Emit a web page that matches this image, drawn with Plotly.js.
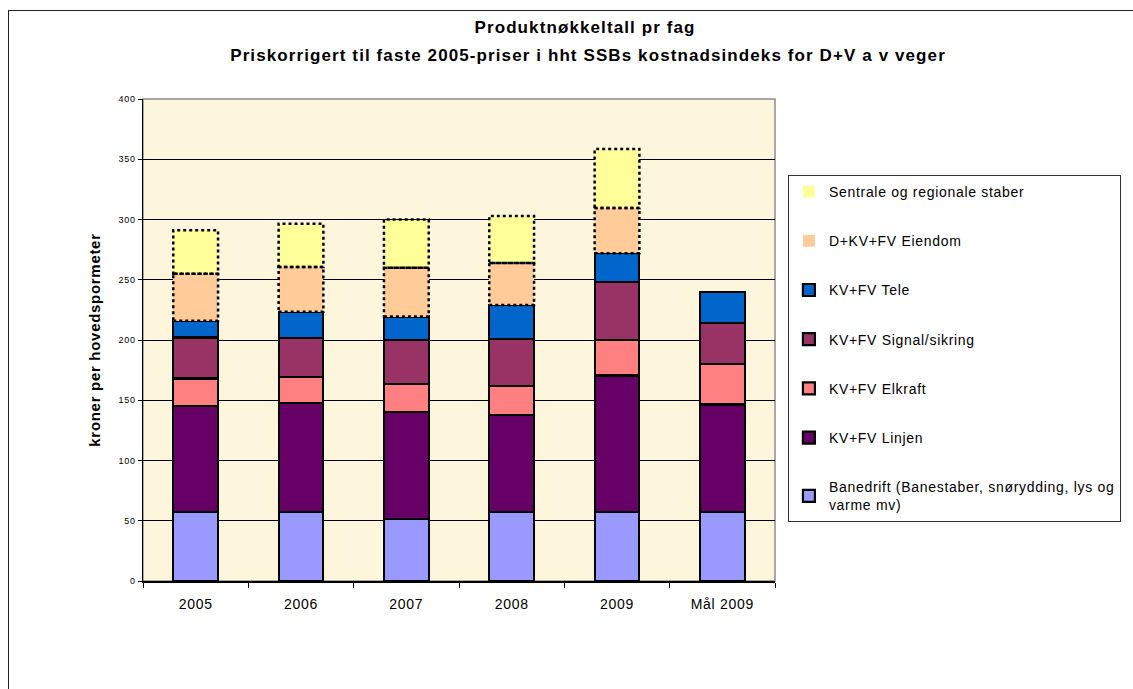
<!DOCTYPE html>
<html><head><meta charset="utf-8">
<script src="https://cdn.plot.ly/plotly-3.0.1.min.js"></script>
<style>
html,body{margin:0;padding:0;overflow:hidden;background:#fff;}
#chart{position:absolute;left:0;top:0;width:1133px;height:689px;}
#frame{position:absolute;left:8px;top:10px;width:1400px;height:1000px;border:1px solid #222;pointer-events:none;}
svg text{letter-spacing:0.7px;}
#chart .gtitle, #chart .annotation-text{letter-spacing:1.1px;}
</style></head><body>
<div id="chart"></div><div id="frame"></div>
<script>
const categories = ['2005','2006','2007','2008','2009','Mål 2009'];
const banedrift = [57.5,57.5,51.5,57.5,57.5,57.5];
const linjen = [88,90,88.5,80.5,113,89];
const elkraft = [22.5,22,23.5,24,29.5,33.5];
const signal = [34,32,36.5,39,48,34];
const tele = [14,22,19.5,28,24,26];
const eiendom = [39,37,40.5,35,37.5,null];
const sentrale = [36,36,40,39,49,null];
const seriesNames = ['Banedrift (Banestaber, snørydding, lys og<br>varme mv)','KV+FV Linjen','KV+FV Elkraft','KV+FV Signal/sikring','KV+FV Tele','D+KV+FV Eiendom','Sentrale og regionale staber'];
const seriesColors = ['#9999FF','#660066','#FF8080','#993366','#0066CC','#FFCC99','#FFFF99'];
const seriesValues = [banedrift, linjen, elkraft, signal, tele, eiendom, sentrale];
const dottedSeries = [5, 6];

const FONT = 'Liberation Sans, Arial, sans-serif';
const bargap = 0.575;
const halfW = (1 - bargap) / 2;

const traces = seriesValues.map((vals, k) => ({
  type: 'bar',
  name: seriesNames[k],
  x: categories,
  y: vals,
  legendgroup: 'g' + k,
  legendrank: 100 - k,
  marker: {color: seriesColors[k], line: {color: '#000', width: dottedSeries.includes(k) ? 0 : 2.2}},
  hoverinfo: 'x+y+name'
}));

// dotted outlines for the two top series, derived from the data
const shapes = [];
categories.forEach((c, i) => {
  let base = 0;
  for (let k = 0; k < seriesValues.length; k++) {
    const v = seriesValues[k][i];
    if (v == null) continue;
    if (dottedSeries.includes(k)) {
      shapes.push({type: 'rect', xref: 'x', yref: 'y', x0: i - halfW, x1: i + halfW, y0: base, y1: base + v,
        line: {color: '#000', width: 2.5, dash: 'dot'}, layer: 'above'});
    }
    base += v;
  }
});
// plot area frame (grey top/right)
shapes.push({type: 'rect', xref: 'paper', yref: 'paper', x0: 0, x1: 1, y0: 0, y1: 1,
  line: {color: '#8c8c8c', width: 1.5}, layer: 'below'});

const layout = {
  width: 1133, height: 689,
  margin: {l: 143, r: 354, t: 99, b: 108},
  paper_bgcolor: '#ffffff',
  plot_bgcolor: '#FEF5DD',
  barmode: 'stack',
  bargap: bargap,
  font: {family: FONT, color: '#000'},
  title: {text: 'Produktnøkkeltall pr fag', font: {family: FONT, size: 17, weight: 'bold', color: '#000'},
    xref: 'container', yref: 'container', x: 585/1133, xanchor: 'center', y: 1 - 27/689, yanchor: 'middle'},
  annotations: [{text: 'Priskorrigert til faste 2005-priser i hht SSBs kostnadsindeks for D+V a v veger',
    xref: 'paper', yref: 'paper', x: (591-143)/636, y: (581-55)/482, xanchor: 'center', yanchor: 'middle',
    showarrow: false, font: {family: FONT, size: 17, weight: 'bold', color: '#000'}}],
  xaxis: {
    type: 'category',
    showline: true, linecolor: '#000', linewidth: 1.5,
    ticks: 'outside', tickson: 'boundaries', ticklen: 5, tickcolor: '#000', tickwidth: 1,
    tickfont: {family: FONT, size: 14, weight: 'normal', color: '#000'},
    ticklabelstandoff: 10,
    showgrid: false, fixedrange: true
  },
  yaxis: {
    range: [0, 400], dtick: 50,
    showline: true, linecolor: '#000', linewidth: 1.5,
    ticks: 'outside', ticklen: 4, tickcolor: '#000',
    tickfont: {family: FONT, size: 9, weight: 'normal', color: '#000'},
    showgrid: true, gridcolor: '#000', gridwidth: 1, zeroline: false,
    title: {text: 'kroner per hovedspormeter', font: {family: FONT, size: 15, weight: 'bold', color: '#000'}, standoff: 14},
    fixedrange: true
  },
  legend: {
    x: (792-143)/636, xanchor: 'left', y: (581-175)/482, yanchor: 'top',
    traceorder: 'grouped', tracegroupgap: 28,
    bgcolor: '#fff', bordercolor: '#333', borderwidth: 1,
    font: {family: FONT, size: 14, weight: 'normal', color: '#000'}
  },
  shapes: shapes,
  showlegend: true
};

Plotly.newPlot('chart', traces, layout, {displayModeBar: false, staticPlot: true});
</script>
</body></html>
